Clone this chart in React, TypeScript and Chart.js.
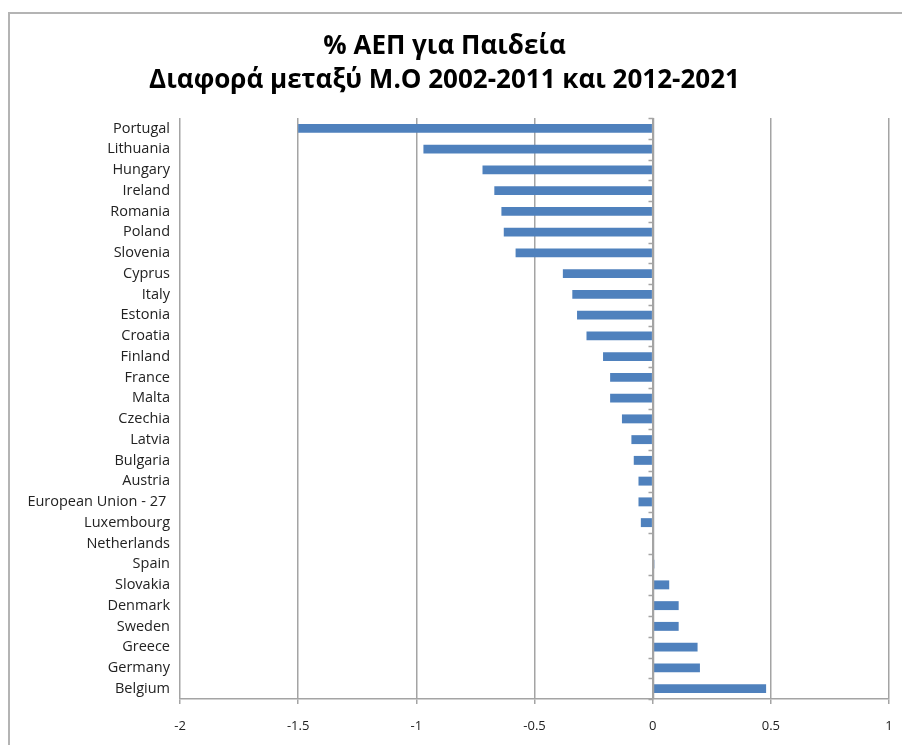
import React, { useEffect, useRef } from "react";
import { Chart, registerables } from "chart.js";

Chart.register(...registerables);

const categories = [
  "Portugal", "Lithuania", "Hungary", "Ireland", "Romania", "Poland", "Slovenia",
  "Cyprus", "Italy", "Estonia", "Croatia", "Finland", "France", "Malta", "Czechia",
  "Latvia", "Bulgaria", "Austria", "European Union - 27 ", "Luxembourg", "Netherlands",
  "Spain", "Slovakia", "Denmark", "Sweden", "Greece", "Germany", "Belgium",
];

const values = [
  -1.5, -0.97, -0.72, -0.67, -0.64, -0.63, -0.58,
  -0.38, -0.34, -0.32, -0.28, -0.21, -0.18, -0.18, -0.13,
  -0.09, -0.08, -0.06, -0.06, -0.05, 0,
  0.007, 0.07, 0.11, 0.11, 0.19, 0.2, 0.48,
];

const titleLines = ["% ΑΕΠ για Παιδεία", "Διαφορά μεταξύ Μ.Ο 2002-2011 και 2012-2021"];
const xMin = -2;
const xMax = 1;
const xStep = 0.5;

const FONT = "'Open Sans', 'Noto Sans', sans-serif";
const GRID = "#a4a4a4";

const decorPlugin = {
  id: "decor",
  beforeDraw(chart: any) {
    const ctx = chart.ctx;
    ctx.save();
    ctx.fillStyle = "#ffffff";
    ctx.fillRect(0, 0, chart.width, chart.height);
    ctx.strokeStyle = "#b4b4b4";
    ctx.lineWidth = 2;
    ctx.beginPath();
    const x0 = 9, y0 = 13, x1 = chart.width + 10, y1 = chart.height + 10;
    ctx.moveTo(x0, y1);
    ctx.lineTo(x0, y0);
    ctx.lineTo(x1, y0);
    ctx.stroke();
    ctx.restore();
  },
  afterDatasetsDraw(chart: any) {
    const ctx = chart.ctx;
    const xs = chart.scales.x;
    const { top, bottom } = chart.chartArea;
    const zx = Math.round(xs.getPixelForValue(0)) + 0.5;
    ctx.save();
    ctx.strokeStyle = GRID;
    ctx.lineWidth = 1.5;
    ctx.beginPath();
    ctx.moveTo(zx, top);
    ctx.lineTo(zx, bottom);
    const n = categories.length;
    for (let i = 0; i <= n; i++) {
      const y = Math.round(top + ((bottom - top) * i) / n) + 0.5;
      ctx.moveTo(zx - 5, y);
      ctx.lineTo(zx, y);
    }
    ctx.stroke();
    ctx.restore();
  },
};

export default function App() {
  const ref = useRef<HTMLCanvasElement>(null);
  useEffect(() => {
    document.body.style.margin = "0";
    const chart = new Chart(ref.current!, {
      type: "bar",
      data: {
        labels: categories,
        datasets: [
          {
            data: values,
            backgroundColor: "#4f81bd",
            borderWidth: 0,
            barPercentage: 0.43,
            categoryPercentage: 1,
          },
        ],
      },
      options: {
        indexAxis: "y",
        animation: false,
        responsive: false,
        maintainAspectRatio: false,
        layout: { padding: { left: 0, right: 13, top: 0, bottom: 0 } },
        plugins: {
          legend: { display: false },
          tooltip: { enabled: false },
          title: {
            display: true,
            text: titleLines,
            color: "#000",
            font: { family: FONT, size: 26, weight: "bold", lineHeight: 34 / 26 },
            padding: { top: 30, bottom: 20 },
          },
        },
        scales: {
          x: {
            type: "linear",
            min: xMin,
            max: xMax,
            ticks: {
              stepSize: xStep,
              color: "#222",
              font: { family: FONT, size: 13 },
              padding: 14,
              callback: (v: any) => String(v),
            },
            grid: { color: GRID, lineWidth: 1.5, tickLength: 5, tickColor: GRID },
            border: { display: true, color: GRID, width: 1.5 },
            afterFit: (s: any) => {
              s.height = 46;
              s.paddingLeft = 0;
              s.paddingRight = 0;
            },
          },
          y: {
            type: "category",
            ticks: {
              color: "#222",
              font: { family: FONT, size: 14.5 },
              padding: 10,
              autoSkip: false,
            },
            grid: { display: false, drawTicks: false },
            border: { display: false },
            afterFit: (s: any) => {
              s.width = 180;
              s.paddingTop = 0;
              s.paddingBottom = 0;
            },
          },
        },
      },
      plugins: [decorPlugin],
    } as any);
    return () => chart.destroy();
  }, []);
  return <canvas ref={ref} width={902} height={745} style={{ display: "block" }} />;
}
